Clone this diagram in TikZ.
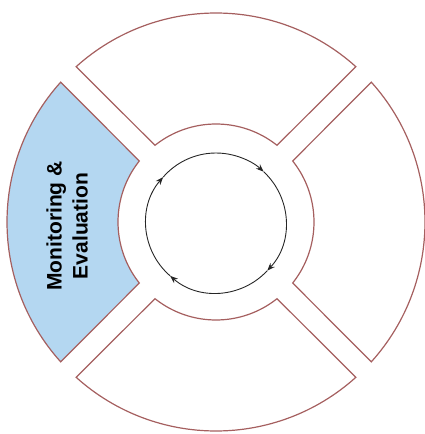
\documentclass[tikz,border=0pt]{standalone}
\usepackage{fontspec}
\setsansfont{Liberation Sans}
\usepackage{xcolor}
\usepackage{tikz}
\usetikzlibrary{arrows.meta}
\definecolor{segline}{RGB}{165,95,95}
\definecolor{mefill}{RGB}{180,215,241}
\tikzset{
  segment/.style={draw=segline, line width=1.2pt, fill=white},
  cyclearrow/.style={draw=black!85, line width=0.9pt, -{Stealth[length=8pt,width=6pt]}},
  segtext/.style={font=\sffamily\bfseries\fontsize{21}{26}\selectfont, align=center, text=black}
}
% one quarter of the ring, #1 = middle angle
\newcommand{\ringpart}[2]{%
  \draw[segment,#2] ({#1+42}:209) arc[start angle={#1+42}, end angle={#1-42}, radius=209]
    -- ({#1-38.5}:98) arc[start angle={#1-38.5}, end angle={#1+38.5}, radius=98] -- cycle;}
\begin{document}
\begin{tikzpicture}[x=1pt, y=1pt]
\useasboundingbox (-216,-212) rectangle (209,222);
\clip (-216,-212) rectangle (209,222);

\ringpart{90}{}
\ringpart{0}{}
\ringpart{270}{}
\ringpart{180}{fill=mefill}

\node[segtext, rotate=90] (mande) at (-149,-4) {Monitoring \&\\Evaluation};

% cycle in the middle
\coordinate (hub) at (0,-1);
\draw[cyclearrow] ([shift={(hub)}]229:70) arc[start angle=229, end angle=139, radius=70];
\draw[cyclearrow] ([shift={(hub)}]139:70) arc[start angle=139, end angle=47, radius=70];
\draw[cyclearrow] ([shift={(hub)}]47:70) arc[start angle=47, end angle=-43, radius=70];
\draw[cyclearrow] ([shift={(hub)}]-43:70) arc[start angle=-43, end angle=-131, radius=70];
\end{tikzpicture}
\end{document}
